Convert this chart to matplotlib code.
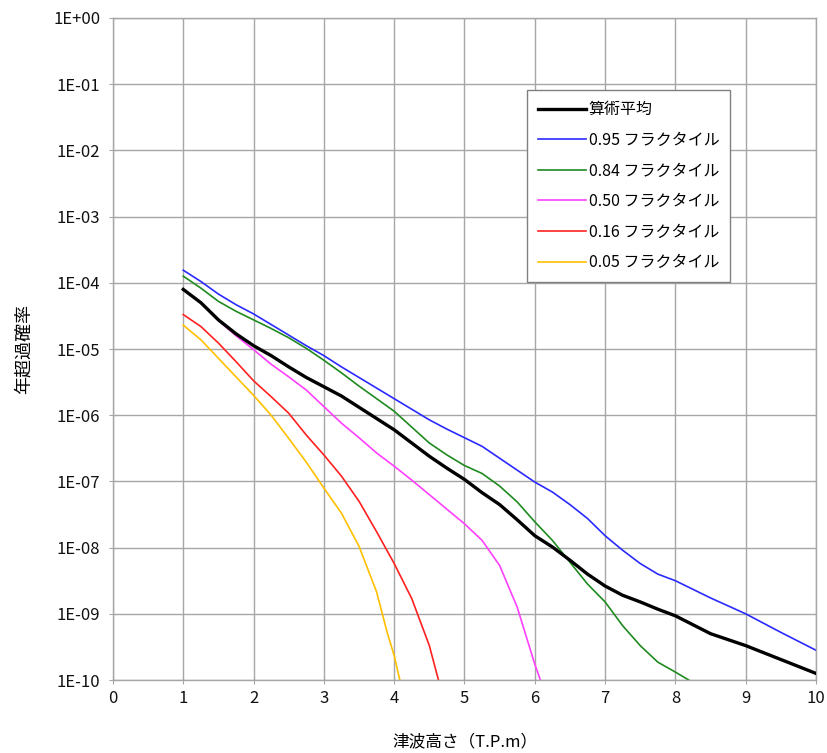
import math

import matplotlib
matplotlib.use("Agg")
import matplotlib.pyplot as plt
import matplotlib.ticker as mticker
import numpy as np

plt.rcParams["font.family"] = ["Noto Sans CJK JP", "DejaVu Sans"]

# Tsunami height (T.P.m) and log10 of the annual exceedance probability,
# read off the picture curve by curve
X_MEAN = [1.0, 1.25, 1.5, 1.75, 2.0, 2.25, 2.5, 2.75, 3.0, 3.25, 3.5, 3.75, 4.0, 4.25, 4.5, 4.75,
          5.0, 5.25, 5.5, 5.75, 6.0, 6.25, 6.5, 6.75, 7.0, 7.25, 7.5, 7.75, 8.0, 8.5, 9.0, 9.5, 10.0]
E_MEAN = [-4.10, -4.30, -4.56, -4.77, -4.95, -5.10, -5.27, -5.43, -5.57, -5.71, -5.88, -6.05, -6.22, -6.42, -6.62, -6.80,
          -6.97, -7.17, -7.35, -7.58, -7.82, -7.99, -8.19, -8.40, -8.58, -8.72, -8.82, -8.93, -9.03, -9.30, -9.48, -9.69, -9.90]

X_95 = [1.0, 1.25, 1.5, 1.75, 2.0, 2.25, 2.5, 2.75, 3.0, 3.25, 3.5, 3.75, 4.0, 4.25, 4.5, 4.75,
        5.0, 5.25, 5.5, 5.75, 6.0, 6.25, 6.5, 6.75, 7.0, 7.25, 7.5, 7.75, 8.0, 8.5, 9.0, 9.5, 10.0]
E_95 = [-3.81, -3.98, -4.17, -4.33, -4.47, -4.63, -4.79, -4.95, -5.10, -5.27, -5.43, -5.59, -5.75, -5.91, -6.07, -6.21,
        -6.34, -6.47, -6.65, -6.83, -7.01, -7.16, -7.35, -7.56, -7.82, -8.04, -8.24, -8.40, -8.50, -8.76, -9.00, -9.28, -9.55]

X_84 = [1.0, 1.25, 1.5, 1.75, 2.0, 2.25, 2.5, 2.75, 3.0, 3.25, 3.5, 3.75, 4.0, 4.25, 4.5, 4.75,
        5.0, 5.25, 5.5, 5.75, 6.0, 6.25, 6.5, 6.75, 7.0, 7.25, 7.5, 7.75, 8.0, 8.19]
E_84 = [-3.90, -4.08, -4.28, -4.43, -4.56, -4.69, -4.83, -4.99, -5.17, -5.36, -5.56, -5.75, -5.94, -6.18, -6.42, -6.60,
        -6.76, -6.88, -7.07, -7.31, -7.61, -7.89, -8.22, -8.55, -8.82, -9.18, -9.48, -9.73, -9.88, -10.0]

X_50 = [1.0, 1.25, 1.5, 1.75, 2.0, 2.25, 2.5, 2.75, 3.0, 3.25, 3.5, 3.75, 4.0, 4.25, 4.5, 4.75,
        5.0, 5.25, 5.5, 5.75, 6.0, 6.08]
E_50 = [-4.10, -4.30, -4.57, -4.80, -5.01, -5.23, -5.42, -5.62, -5.87, -6.12, -6.34, -6.57, -6.77, -6.98, -7.20, -7.42,
        -7.64, -7.89, -8.27, -8.90, -9.76, -10.0]

X_16 = [1.0, 1.25, 1.5, 1.75, 2.0, 2.25, 2.5, 2.75, 3.0, 3.25, 3.5, 3.75, 4.0, 4.25, 4.5, 4.63]
E_16 = [-4.48, -4.66, -4.91, -5.19, -5.48, -5.72, -5.97, -6.30, -6.60, -6.92, -7.30, -7.76, -8.24, -8.77, -9.48, -10.0]

X_05 = [1.0, 1.25, 1.5, 1.75, 2.0, 2.25, 2.5, 2.75, 3.0, 3.25, 3.5, 3.75, 3.9, 4.0, 4.08]
E_05 = [-4.64, -4.86, -5.14, -5.42, -5.70, -6.00, -6.35, -6.71, -7.10, -7.48, -7.98, -8.67, -9.28, -9.63, -10.0]

LABELS = ["算術平均", "0.95 フラクタイル", "0.84 フラクタイル",
          "0.50 フラクタイル", "0.16 フラクタイル", "0.05 フラクタイル"]
XS = [X_MEAN, X_95, X_84, X_50, X_16, X_05]
ES = [E_MEAN, E_95, E_84, E_50, E_16, E_05]
COLORS = ["#000000", "#2a2aff", "#1f8a1f", "#ff40ff", "#ff2020", "#ffc000"]
WIDTHS = [2.4, 1.2, 1.2, 1.2, 1.2, 1.2]

GRID_COLOR = "#a6a6a6"

fig = plt.figure(figsize=(8.27, 7.53), dpi=100)
ax = fig.add_axes([0.1366, 0.0969, 0.8501, 0.8792])

lines = []
for label, xs, es, color, lw in zip(LABELS, XS, ES, COLORS, WIDTHS):
    z = 3 if label == "算術平均" else 2
    ln, = ax.plot(xs, np.power(10.0, es), color=color, lw=lw, label=label, zorder=z)
    lines.append(ln)

ax.set_yscale("log")
ax.set_xlim(0, 10)
ax.set_ylim(1e-10, 1)
ax.set_xticks(range(0, 11))
ax.yaxis.set_major_locator(mticker.LogLocator(base=10, numticks=20))
ax.yaxis.set_minor_locator(mticker.NullLocator())
ax.yaxis.set_major_formatter(mticker.FuncFormatter(
    lambda v, p: "1E+00" if v >= 1 else f"1E-{int(round(-math.log10(v))):02d}"))

ax.grid(True, color=GRID_COLOR, lw=1.0)
ax.set_axisbelow(True)
for s in ax.spines.values():
    s.set_color(GRID_COLOR)
    s.set_linewidth(1.0)
ax.tick_params(axis="both", direction="inout", length=6, color=GRID_COLOR,
               labelsize=12, labelcolor="#111111")
ax.tick_params(axis="y", pad=6)
ax.tick_params(axis="x", pad=4)

ax.set_xlabel("津波高さ（T.P.m）", fontsize=12, labelpad=19)
ax.set_ylabel("年超過確率", fontsize=13, labelpad=15)

leg = ax.legend(lines, LABELS, loc="upper left", bbox_to_anchor=(0.589, 0.891), borderaxespad=0,
                fontsize=11.5, handlelength=3.0, handletextpad=0.15, labelspacing=0.85,
                borderpad=0.7, fancybox=False, framealpha=1, edgecolor="#808080")
leg.get_frame().set_linewidth(1.0)

fig.savefig("out.png", dpi=100)
